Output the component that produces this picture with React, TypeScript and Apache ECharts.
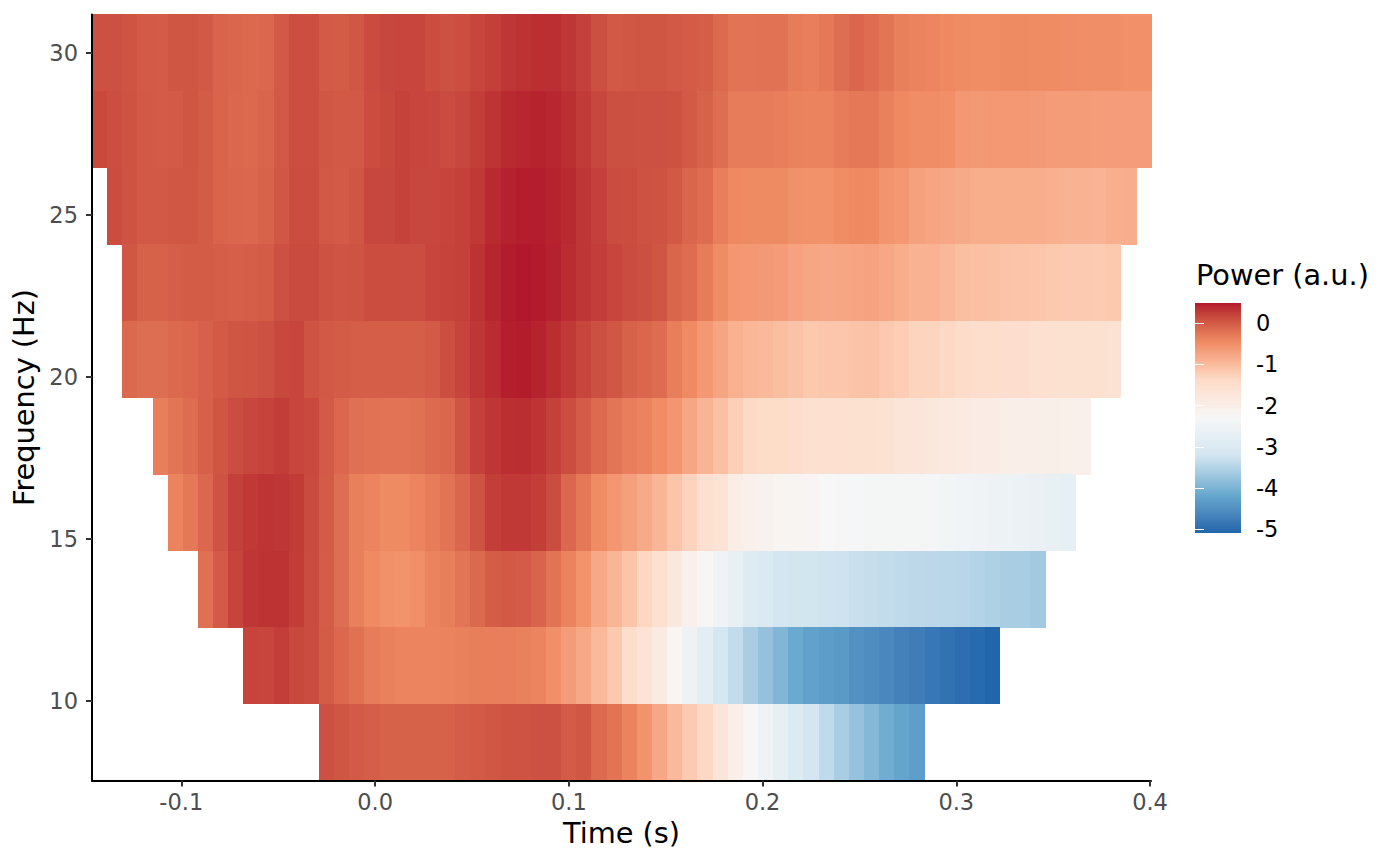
import React, { useEffect, useRef } from "react";
import * as echarts from "echarts";

const frequencies = [30, 27.64, 25.27, 22.91, 20.55, 18.18, 15.82, 13.46, 11.09, 8.73];
const firstColumn = [0, 0, 1, 2, 2, 4, 5, 7, 10, 15];
const times = [
  -0.1422, -0.1344, -0.1266, -0.1188, -0.1109, -0.1031, -0.0953, -0.0875, -0.0797, -0.0719,
  -0.0641, -0.0563, -0.0484, -0.0406, -0.0328, -0.025, -0.0172, -0.0094, -0.0016, 0.0062,
  0.0141, 0.0219, 0.0297, 0.0375, 0.0453, 0.0531, 0.0609, 0.0687, 0.0766, 0.0844,
  0.0922, 0.1, 0.1078, 0.1156, 0.1234, 0.1312, 0.1391, 0.1469, 0.1547, 0.1625,
  0.1703, 0.1781, 0.1859, 0.1937, 0.2016, 0.2094, 0.2172, 0.225, 0.2328, 0.2406,
  0.2484, 0.2562, 0.2641, 0.2719, 0.2797, 0.2875, 0.2953, 0.3031, 0.3109, 0.3187,
  0.3266, 0.3344, 0.3422, 0.35, 0.3578, 0.3656, 0.3734, 0.3812, 0.3891, 0.3969,
];

const row30 = [.09,.09,.06,.01,0,.04,.04,.02,-.08,-.11,-.13,-.12,.02,.11,.11,.01,-.01,.03,.14,.18,.19,.19,.12,.09,.11,.19,.24,.31,.33,.36,.36,.31,.23,.1,.02,.03,.04,.04,.02,0,-.03,-.14,-.23,-.23,-.22,-.22,-.31,-.32,-.27,-.18,-.11,-.16,-.24,-.34,-.37,-.4,-.43,-.46,-.47,-.47,-.45,-.45,-.46,-.46,-.48,-.49,-.49,-.49,-.51,-.51];
const row28 = [.16,.11,.07,.02,0,.01,.04,-.01,-.08,-.12,-.13,-.09,.02,.11,.11,.03,.02,.02,.12,.17,.22,.19,.18,.14,.18,.25,.32,.39,.41,.43,.41,.36,.27,.18,.1,.1,.09,.09,.08,.01,-.06,-.18,-.31,-.31,-.31,-.32,-.36,-.37,-.38,-.31,-.27,-.27,-.35,-.43,-.48,-.48,-.5,-.6,-.61,-.6,-.6,-.6,-.62,-.64,-.65,-.65,-.66,-.66,-.66,-.66];
const row25 = [.13,.07,.02,.02,.03,.03,-.01,-.08,-.1,-.12,-.07,.03,.12,.12,.02,.01,.04,.18,.18,.22,.18,.18,.2,.23,.29,.39,.44,.46,.46,.43,.39,.31,.23,.14,.12,.08,.07,.02,-.09,-.16,-.32,-.43,-.45,-.45,-.45,-.52,-.53,-.53,-.47,-.43,-.44,-.56,-.6,-.7,-.74,-.77,-.8,-.83,-.83,-.83,-.83,-.85,-.87,-.9,-.91,-.92,-.86,-.85];
const row23 = [.03,-.06,-.06,-.03,-.01,-.01,-.03,-.04,-.03,-.01,.09,.15,.15,.08,.06,.07,.12,.12,.13,.13,.19,.21,.23,.33,.42,.47,.49,.48,.44,.38,.31,.25,.19,.14,.1,.04,-.09,-.16,-.31,-.46,-.58,-.6,-.62,-.65,-.72,-.76,-.77,-.76,-.74,-.72,-.77,-.83,-.9,-.91,-.96,-1.03,-1.06,-1.07,-1.1,-1.11,-1.13,-1.15,-1.17,-1.17,-1.18,-1.15];
const row21 = [-.13,-.18,-.18,-.13,-.1,-.05,.01,.04,.06,.09,.17,.19,.07,.02,-.01,-.03,-.03,-.03,-.03,-.03,.01,.11,.2,.31,.38,.45,.47,.43,.37,.29,.19,.1,.03,-.06,-.11,-.16,-.32,-.44,-.6,-.75,-.88,-.95,-.97,-1.03,-1.08,-1.15,-1.13,-1.13,-1.1,-1.08,-1.16,-1.21,-1.29,-1.3,-1.35,-1.4,-1.44,-1.47,-1.5,-1.5,-1.54,-1.57,-1.57,-1.57,-1.57,-1.6];
const row18 = [-.32,-.24,-.16,-.05,.04,.13,.18,.21,.26,.19,.16,.01,-.12,-.2,-.22,-.23,-.23,-.21,-.14,-.1,.06,.23,.31,.36,.37,.32,.23,.12,0,-.14,-.24,-.32,-.38,-.47,-.57,-.76,-.92,-1.06,-1.23,-1.36,-1.39,-1.39,-1.5,-1.54,-1.54,-1.54,-1.57,-1.57,-1.6,-1.7,-1.73,-1.8,-1.83,-1.87,-1.93,-1.93,-2.0,-2.0,-2.03,-2.03,-2.07,-2.07];
const row16 = [-.38,-.27,-.12,.07,.23,.29,.32,.31,.27,.15,-.01,-.18,-.34,-.39,-.45,-.45,-.39,-.31,-.23,-.1,.07,.25,.29,.29,.25,.13,-.12,-.27,-.46,-.58,-.69,-.8,-.93,-1.11,-1.28,-1.54,-1.64,-1.97,-2.07,-2.13,-2.2,-2.2,-2.22,-2.31,-2.33,-2.35,-2.37,-2.37,-2.37,-2.37,-2.39,-2.42,-2.45,-2.5,-2.52,-2.55,-2.57,-2.62,-2.67,-2.72];
const row13 = [-.2,.01,.2,.31,.33,.33,.26,.14,-.02,-.18,-.34,-.44,-.52,-.54,-.5,-.38,-.33,-.24,-.13,-.02,.02,0,-.08,-.23,-.37,-.54,-.78,-.94,-1.11,-1.32,-1.54,-1.8,-2.07,-2.27,-2.5,-2.67,-2.92,-3.01,-3.16,-3.18,-3.2,-3.24,-3.26,-3.31,-3.34,-3.36,-3.4,-3.42,-3.44,-3.45,-3.46,-3.51,-3.54,-3.59,-3.6,-3.66];
const row11 = [.2,.19,.25,.17,.14,-.01,-.12,-.21,-.31,-.35,-.39,-.39,-.39,-.38,-.35,-.33,-.32,-.32,-.35,-.39,-.5,-.64,-.78,-.97,-1.15,-1.47,-1.64,-1.9,-2.23,-2.52,-2.8,-3.13,-3.36,-3.59,-3.78,-3.96,-4.14,-4.26,-4.32,-4.37,-4.48,-4.54,-4.62,-4.7,-4.77,-4.85,-4.92,-4.97,-5.03,-5.09];
const row9 = [.09,.04,.01,-.03,-.06,-.06,-.06,-.06,-.06,-.02,.01,.03,.07,.07,.09,.09,0,.03,-.14,-.23,-.37,-.55,-.77,-.97,-1.17,-1.33,-1.7,-2.0,-2.27,-2.5,-2.72,-2.97,-3.16,-3.4,-3.59,-3.77,-3.92,-4.09,-4.21,-4.3];
const rows = [row30, row28, row25, row23, row21, row18, row16, row13, row11, row9];

const xTickValues = [-0.1, 0, 0.1, 0.2, 0.3, 0.4];
const yTickValues = [10, 15, 20, 25, 30];
const legendTickValues = [0, -1, -2, -3, -4, -5];
const paletteAnchors = ["#2166AC", "#67A9CF", "#D1E5F0", "#F7F7F7", "#FDDBC7", "#EF8A62", "#B2182B"];
const powerMin = -5.09;
const powerMax = 0.49;
const timeStep = 0.0078125;
const freqStep = 2.363;
const font = "'DejaVu Sans'";

// Colour ramp interpolated in Lab, the way the plotting scale of the reference does it.
function toLab(hex: string) {
  const c = [1, 3, 5].map((i) => parseInt(hex.slice(i, i + 2), 16) / 255)
    .map((v) => (v > 0.04045 ? Math.pow((v + 0.055) / 1.055, 2.4) : v / 12.92));
  const x = (0.4124 * c[0] + 0.3576 * c[1] + 0.1805 * c[2]) / 0.95047;
  const y = 0.2126 * c[0] + 0.7152 * c[1] + 0.0722 * c[2];
  const z = (0.0193 * c[0] + 0.1192 * c[1] + 0.9505 * c[2]) / 1.08883;
  const f = (t: number) => (t > 0.008856 ? Math.cbrt(t) : 7.787 * t + 16 / 116);
  return [116 * f(y) - 16, 500 * (f(x) - f(y)), 200 * (f(y) - f(z))];
}
function fromLab(l: number, a: number, b: number) {
  const fy = (l + 16) / 116;
  const g = (t: number) => (t * t * t > 0.008856 ? t * t * t : (t - 16 / 116) / 7.787);
  const x = 0.95047 * g(fy + a / 500);
  const y = g(fy);
  const z = 1.08883 * g(fy - b / 200);
  const lin = [
    3.2406 * x - 1.5372 * y - 0.4986 * z,
    -0.9689 * x + 1.8758 * y + 0.0415 * z,
    0.0557 * x - 0.204 * y + 1.057 * z,
  ];
  const s = lin.map((v) => {
    const p = v > 0.0031308 ? 1.055 * Math.pow(v, 1 / 2.4) - 0.055 : 12.92 * v;
    return Math.round(Math.min(1, Math.max(0, p)) * 255);
  });
  return `rgb(${s[0]},${s[1]},${s[2]})`;
}
function buildRamp() {
  const out: string[] = [];
  const sub = 8;
  for (let i = 0; i < paletteAnchors.length - 1; i++) {
    const p = toLab(paletteAnchors[i]);
    const q = toLab(paletteAnchors[i + 1]);
    for (let j = 0; j < sub; j++) {
      const t = j / sub;
      out.push(fromLab(p[0] + (q[0] - p[0]) * t, p[1] + (q[1] - p[1]) * t, p[2] + (q[2] - p[2]) * t));
    }
  }
  const e = toLab(paletteAnchors[paletteAnchors.length - 1]);
  out.push(fromLab(e[0], e[1], e[2]));
  return out;
}

export default function App() {
  const ref = useRef<HTMLDivElement>(null);
  useEffect(() => {
    document.body.style.margin = "0";
    const chart = echarts.init(ref.current!, null, { renderer: "svg" });
    const ramp = buildRamp();
    const cells: number[][] = [];
    rows.forEach((r, i) => r.forEach((v, j) => cells.push([times[firstColumn[i] + j], frequencies[i], v])));
    const gradientStops = ramp
      .map((color, i) => ({ offset: 1 - i / (ramp.length - 1), color }))
      .reverse();
    chart.setOption({
      animation: false,
      backgroundColor: "#fff",
      grid: [
        { left: 92, top: 14.5, width: 1059, height: 766, outerBoundsMode: "none" },
        { left: 1195, top: 303, width: 46, height: 230, outerBoundsMode: "none" },
      ],
      xAxis: [
        {
          type: "value", gridIndex: 0, min: -0.1461, max: 0.4005, z: 10,
          splitLine: { show: false },
          axisLine: { show: true, onZero: false, lineStyle: { color: "#000", width: 2 } },
          axisTick: { show: true, customValues: xTickValues, length: 6, lineStyle: { color: "#333", width: 2 } },
          axisLabel: {
            customValues: xTickValues, color: "#4D4D4D", fontSize: 22.5, fontFamily: font, margin: 10,
            formatter: (v: number) => v.toFixed(1),
          },
          name: "Time (s)", nameLocation: "middle", nameGap: 38,
          nameTextStyle: { color: "#000", fontSize: 28.8, fontFamily: font },
        },
        { type: "value", gridIndex: 1, min: 0, max: 1, show: false },
      ],
      yAxis: [
        {
          type: "value", gridIndex: 0, min: 7.55, max: 31.18, z: 10,
          splitLine: { show: false },
          axisLine: { show: true, onZero: false, lineStyle: { color: "#000", width: 2 } },
          axisTick: { show: true, customValues: yTickValues, length: 6, lineStyle: { color: "#333", width: 2 } },
          axisLabel: { customValues: yTickValues, color: "#4D4D4D", fontSize: 22.5, fontFamily: font, margin: 14 },
          name: "Frequency (Hz)", nameLocation: "middle", nameGap: 47,
          nameTextStyle: { color: "#000", fontSize: 28.8, fontFamily: font },
        },
        {
          type: "value", gridIndex: 1, position: "right", min: powerMin, max: powerMax, z: 10,
          splitLine: { show: false },
          axisLine: { show: false },
          axisTick: { show: true, inside: true, customValues: legendTickValues, length: 9, lineStyle: { color: "#fff", width: 1 } },
          axisLabel: { customValues: legendTickValues, color: "#000", fontSize: 22.5, fontFamily: font, margin: 15 },
        },
        {
          type: "value", gridIndex: 1, position: "left", min: powerMin, max: powerMax, z: 10,
          splitLine: { show: false },
          axisLine: { show: false },
          axisTick: { show: true, inside: true, customValues: legendTickValues, length: 9, lineStyle: { color: "#fff", width: 1 } },
          axisLabel: { show: false },
        },
      ],
      visualMap: {
        show: false, type: "continuous", seriesIndex: 0, dimension: 2,
        min: powerMin, max: powerMax, inRange: { color: ramp },
      },
      graphic: [
        {
          type: "text", left: 1196, top: 260,
          style: { text: "Power (a.u.)", fill: "#000", fontSize: 28.8, fontFamily: font },
        },
      ],
      series: [
        {
          type: "custom", xAxisIndex: 0, yAxisIndex: 0, data: cells,
          encode: { x: 0, y: 1 },
          renderItem: (_p: any, api: any) => {
            const c = api.coord([api.value(0), api.value(1)]);
            const s = api.size([timeStep, freqStep]);
            const x0 = Math.round(c[0] - s[0] / 2);
            const x1 = Math.round(c[0] + s[0] / 2 + 0.25);
            const y0 = Math.round(c[1] - s[1] / 2);
            const y1 = Math.round(c[1] + s[1] / 2 + 0.3);
            return {
              type: "rect",
              shape: { x: x0, y: y0, width: x1 - x0, height: y1 - y0 },
              style: { fill: api.visual("color") },
            };
          },
        },
        {
          type: "custom", xAxisIndex: 1, yAxisIndex: 1, data: [[0, powerMin, 1, powerMax]],
          encode: { x: [0, 2], y: [1, 3] },
          renderItem: (_p: any, api: any) => {
            const a = api.coord([0, powerMax]);
            const b = api.coord([1, powerMin]);
            return {
              type: "rect",
              shape: { x: a[0], y: a[1], width: b[0] - a[0], height: b[1] - a[1] },
              style: { fill: new echarts.graphic.LinearGradient(0, 0, 0, 1, gradientStops) },
            };
          },
        },
      ],
    });
    return () => chart.dispose();
  }, []);
  return <div ref={ref} style={{ position: "absolute", left: 0, top: 0, width: 1400, height: 865 }} />;
}
